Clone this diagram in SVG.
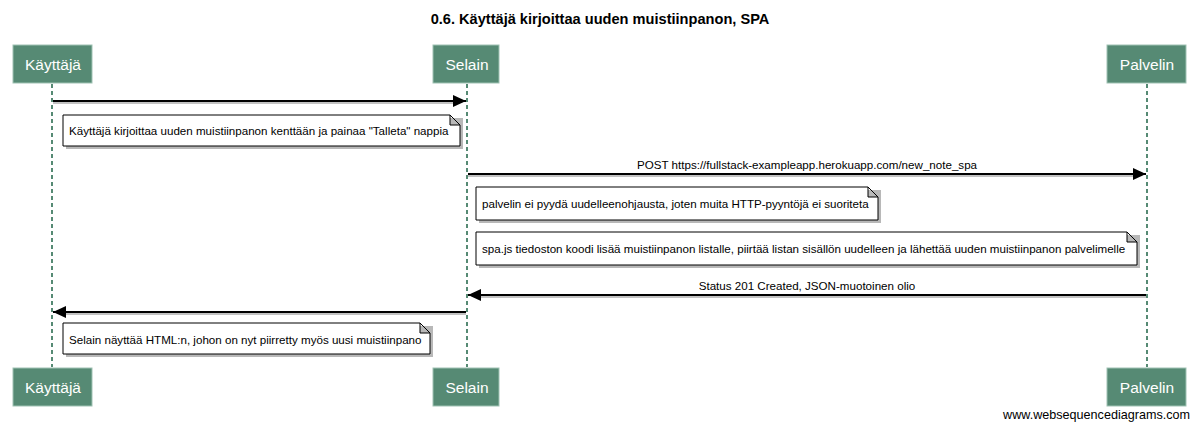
<svg xmlns="http://www.w3.org/2000/svg" width="1200" height="429" viewBox="0 0 1200 429">
<style>
.title{font-family:"Liberation Sans",Arial,sans-serif;font-size:14.6px;font-weight:bold;fill:#000}
.pbox{fill:#568a74;stroke:#9fc2b3;stroke-width:1}
.ptext{font-family:"Liberation Sans",Arial,sans-serif;font-size:15.5px;fill:#fff;text-anchor:middle}
.life{stroke:#568a74;stroke-width:2;stroke-dasharray:4,3;fill:none}
.msg{stroke:#000;stroke-width:2;fill:none}
.msgsh{stroke:#999;stroke-width:2;fill:none;opacity:0.6}
.lbl{font-family:"Liberation Sans",Arial,sans-serif;font-size:11.6px;fill:#000;text-anchor:middle}
.note{fill:#fff;stroke:#000;stroke-width:1}
.notesh{fill:#888;opacity:0.6}
.ntext{font-family:"Liberation Sans",Arial,sans-serif;font-size:11.6px;fill:#000}
.wm{font-family:"Liberation Sans",Arial,sans-serif;font-size:12.6px;fill:#000;text-anchor:end}
</style>
<defs>
<marker id="ah" markerWidth="14" markerHeight="12" refX="13" refY="6" orient="auto" markerUnits="userSpaceOnUse">
<path d="M0,0 L13,6 L0,12 Z" fill="#000"/>
</marker>
</defs>
<rect width="1200" height="429" fill="#fff"/>
<text class="title" x="600" y="24" text-anchor="middle">0.6. Käyttäjä kirjoittaa uuden muistiinpanon, SPA</text>

<g id="lifelines">
<line class="life" x1="52" y1="84" x2="52" y2="367"/>
<line class="life" x1="467" y1="84" x2="467" y2="367"/>
<line class="life" x1="1147" y1="84" x2="1147" y2="367"/>
</g>

<g id="kayttaja">
<rect class="pbox" x="13" y="45" width="79" height="38"/>
<text class="ptext" x="53" y="69.5">Käyttäjä</text>
<rect class="pbox" x="13" y="368" width="79" height="38"/>
<text class="ptext" x="53" y="392.5">Käyttäjä</text>
</g>
<g id="selain">
<rect class="pbox" x="433" y="45" width="66" height="38"/>
<text class="ptext" x="467" y="69.5">Selain</text>
<rect class="pbox" x="433" y="368" width="66" height="38"/>
<text class="ptext" x="467" y="392.5">Selain</text>
</g>
<g id="palvelin">
<rect class="pbox" x="1107" y="45" width="79" height="38"/>
<text class="ptext" x="1147" y="69.5">Palvelin</text>
<rect class="pbox" x="1107" y="368" width="79" height="38"/>
<text class="ptext" x="1147" y="392.5">Palvelin</text>
</g>

<g id="connectors">
<line class="msgsh" x1="53" y1="103" x2="454" y2="103"/>
<line class="msg" x1="53" y1="101" x2="466" y2="101" marker-end="url(#ah)"/>
<line class="msgsh" x1="468" y1="176" x2="1134" y2="176"/>
<line class="msg" x1="468" y1="174" x2="1146" y2="174" marker-end="url(#ah)"/>
<text class="lbl" x="807" y="169">POST https://fullstack-exampleapp.herokuapp.com/new_note_spa</text>
<line class="msgsh" x1="481" y1="297" x2="1146" y2="297"/>
<line class="msg" x1="1146" y1="295" x2="468" y2="295" marker-end="url(#ah)"/>
<text class="lbl" x="807" y="290">Status 201 Created, JSON-muotoinen olio</text>
<line class="msgsh" x1="66" y1="314" x2="466" y2="314"/>
<line class="msg" x1="466" y1="312" x2="53" y2="312" marker-end="url(#ah)"/>
</g>

<g id="note1">
<path class="notesh" d="M66,118 L463,118 L463,149 L66,149 Z"/>
<path class="note" d="M63,115 L450,115 L460,125 L460,146 L63,146 Z M450,115 L450,125 L460,125"/>
<text class="ntext" x="69" y="134.5">Käyttäjä kirjoittaa uuden muistiinpanon kenttään ja painaa "Talleta" nappia</text>
</g>
<g id="note2">
<path class="notesh" d="M479,190 L881,190 L881,223 L479,223 Z"/>
<path class="note" d="M476,187 L868,187 L878,197 L878,220 L476,220 Z M868,187 L868,197 L878,197"/>
<text class="ntext" x="482" y="207.5">palvelin ei pyydä uudelleenohjausta, joten muita HTTP-pyyntöjä ei suoriteta</text>
</g>
<g id="note3">
<path class="notesh" d="M479,235 L1140,235 L1140,268 L479,268 Z"/>
<path class="note" d="M476,232 L1127,232 L1137,242 L1137,265 L476,265 Z M1127,232 L1127,242 L1137,242"/>
<text class="ntext" x="482" y="252.5">spa.js tiedoston koodi lisää muistiinpanon listalle, piirtää listan sisällön uudelleen ja lähettää uuden muistiinpanon palvelimelle</text>
</g>
<g id="note4">
<path class="notesh" d="M66,326 L433,326 L433,357 L66,357 Z"/>
<path class="note" d="M63,323 L420,323 L430,333 L430,354 L63,354 Z M420,323 L420,333 L430,333"/>
<text class="ntext" x="69" y="343.5">Selain näyttää HTML:n, johon on nyt piirretty myös uusi muistiinpano</text>
</g>

<text class="wm" x="1190" y="419">www.websequencediagrams.com</text>
</svg>
